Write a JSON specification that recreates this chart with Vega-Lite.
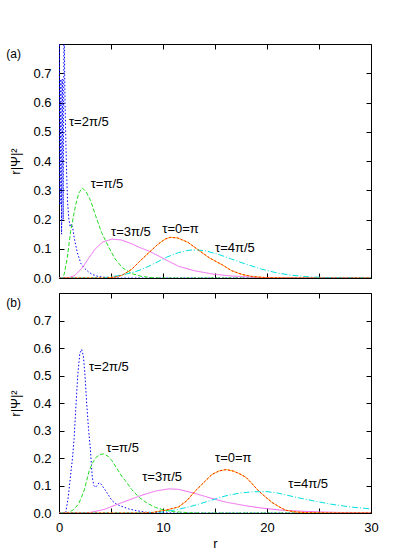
{
  "$schema": "https://vega.github.io/schema/vega-lite/v6.json",
  "padding": {"left": 5, "top": 43, "right": 23, "bottom": 0},
  "spacing": 6,
  "config": {
    "font": "Liberation Sans",
    "view": {"stroke": "black", "strokeWidth": 1},
    "axis": {"domain": false, "grid": false, "tickColor": "black", "tickSize": -5, "labelPadding": 13, "labelFontSize": 13, "labelColor": "black", "labelFont": "Liberation Sans", "titleFont": "Liberation Sans", "titleFontSize": 13, "titleColor": "black", "titleFontWeight": "normal", "labelFlush": false},
    "text": {"font": "Liberation Sans", "fontSize": 13, "color": "black"}
  },
  "datasets": {
    "a": [
      {"s": "b", "r": 0, "v": 0.3}, {"s": "b", "r": 0.02, "v": 0.95}, {"s": "b", "r": 0.1, "v": 0.25}, {"s": "b", "r": 0.18, "v": 0.68}, {"s": "b", "r": 0.25, "v": 0.15}, {"s": "b", "r": 0.32, "v": 0.68}, {"s": "b", "r": 0.4, "v": 0.2}, {"s": "b", "r": 0.48, "v": 0.9}, {"s": "b", "r": 0.58, "v": 0.6}, {"s": "b", "r": 0.7, "v": 0.4}, {"s": "b", "r": 0.82, "v": 0.26}, {"s": "b", "r": 0.95, "v": 0.2}, {"s": "b", "r": 1.08, "v": 0.175}, {"s": "b", "r": 1.2, "v": 0.185}, {"s": "b", "r": 1.32, "v": 0.17}, {"s": "b", "r": 1.5, "v": 0.13}, {"s": "b", "r": 1.76, "v": 0.087}, {"s": "b", "r": 2.1, "v": 0.05}, {"s": "b", "r": 2.4, "v": 0.035}, {"s": "b", "r": 2.8, "v": 0.022}, {"s": "b", "r": 3.2, "v": 0.012}, {"s": "b", "r": 3.8, "v": 0.005}, {"s": "b", "r": 4.5, "v": 0.002}, {"s": "b", "r": 6, "v": 0}, {"s": "b", "r": 30, "v": 0},
      {"s": "g", "r": 0, "v": 0}, {"s": "g", "r": 0.3, "v": 0}, {"s": "g", "r": 0.5, "v": 0.013}, {"s": "g", "r": 0.8, "v": 0.07}, {"s": "g", "r": 1.12, "v": 0.16}, {"s": "g", "r": 1.6, "v": 0.25}, {"s": "g", "r": 1.9, "v": 0.29}, {"s": "g", "r": 2.24, "v": 0.308}, {"s": "g", "r": 2.6, "v": 0.295}, {"s": "g", "r": 3.05, "v": 0.264}, {"s": "g", "r": 3.5, "v": 0.215}, {"s": "g", "r": 4.1, "v": 0.155}, {"s": "g", "r": 4.8, "v": 0.104}, {"s": "g", "r": 5.4, "v": 0.065}, {"s": "g", "r": 6.1, "v": 0.035}, {"s": "g", "r": 7, "v": 0.015}, {"s": "g", "r": 8, "v": 0.005}, {"s": "g", "r": 9, "v": 0.001}, {"s": "g", "r": 10, "v": 0}, {"s": "g", "r": 30, "v": 0},
      {"s": "m", "r": 0, "v": 0}, {"s": "m", "r": 1, "v": 0.002}, {"s": "m", "r": 1.5, "v": 0.008}, {"s": "m", "r": 2.24, "v": 0.035}, {"s": "m", "r": 2.8, "v": 0.065}, {"s": "m", "r": 3.5, "v": 0.1}, {"s": "m", "r": 4.2, "v": 0.123}, {"s": "m", "r": 5.1, "v": 0.133}, {"s": "m", "r": 6, "v": 0.13}, {"s": "m", "r": 7, "v": 0.117}, {"s": "m", "r": 7.7, "v": 0.105}, {"s": "m", "r": 8.65, "v": 0.092}, {"s": "m", "r": 9.6, "v": 0.075}, {"s": "m", "r": 10.5, "v": 0.058}, {"s": "m", "r": 11.5, "v": 0.04}, {"s": "m", "r": 13, "v": 0.025}, {"s": "m", "r": 14.7, "v": 0.014}, {"s": "m", "r": 16.5, "v": 0.007}, {"s": "m", "r": 19, "v": 0.002}, {"s": "m", "r": 22, "v": 0.0005}, {"s": "m", "r": 30, "v": 0},
      {"s": "o", "r": 0, "v": 0}, {"s": "o", "r": 4.5, "v": 0}, {"s": "o", "r": 5.5, "v": 0.004}, {"s": "o", "r": 6.1, "v": 0.01}, {"s": "o", "r": 7, "v": 0.03}, {"s": "o", "r": 7.7, "v": 0.055}, {"s": "o", "r": 8.65, "v": 0.087}, {"s": "o", "r": 9.5, "v": 0.115}, {"s": "o", "r": 10.2, "v": 0.133}, {"s": "o", "r": 10.7, "v": 0.139}, {"s": "o", "r": 11.4, "v": 0.137}, {"s": "o", "r": 12.4, "v": 0.122}, {"s": "o", "r": 13.5, "v": 0.093}, {"s": "o", "r": 14.5, "v": 0.068}, {"s": "o", "r": 15.7, "v": 0.045}, {"s": "o", "r": 16.6, "v": 0.025}, {"s": "o", "r": 17.6, "v": 0.012}, {"s": "o", "r": 18.6, "v": 0.005}, {"s": "o", "r": 20, "v": 0.001}, {"s": "o", "r": 22, "v": 0}, {"s": "o", "r": 30, "v": 0},
      {"s": "c", "r": 0, "v": 0}, {"s": "c", "r": 4, "v": 0}, {"s": "c", "r": 5, "v": 0.004}, {"s": "c", "r": 6, "v": 0.01}, {"s": "c", "r": 7, "v": 0.018}, {"s": "c", "r": 7.7, "v": 0.026}, {"s": "c", "r": 8.5, "v": 0.038}, {"s": "c", "r": 9.3, "v": 0.052}, {"s": "c", "r": 10.4, "v": 0.072}, {"s": "c", "r": 11.5, "v": 0.087}, {"s": "c", "r": 12.5, "v": 0.095}, {"s": "c", "r": 13.3, "v": 0.096}, {"s": "c", "r": 14.2, "v": 0.092}, {"s": "c", "r": 15.4, "v": 0.08}, {"s": "c", "r": 16.5, "v": 0.066}, {"s": "c", "r": 17.5, "v": 0.053}, {"s": "c", "r": 19.5, "v": 0.03}, {"s": "c", "r": 21, "v": 0.017}, {"s": "c", "r": 22.5, "v": 0.009}, {"s": "c", "r": 24, "v": 0.004}, {"s": "c", "r": 26, "v": 0.001}, {"s": "c", "r": 30, "v": 0}
    ],
    "b": [
      {"s": "b", "r": 0, "v": 0}, {"s": "b", "r": 0.64, "v": 0}, {"s": "b", "r": 0.9, "v": 0.06}, {"s": "b", "r": 1.12, "v": 0.14}, {"s": "b", "r": 1.3, "v": 0.2}, {"s": "b", "r": 1.45, "v": 0.27}, {"s": "b", "r": 1.6, "v": 0.37}, {"s": "b", "r": 1.8, "v": 0.5}, {"s": "b", "r": 2.0, "v": 0.58}, {"s": "b", "r": 2.18, "v": 0.595}, {"s": "b", "r": 2.35, "v": 0.57}, {"s": "b", "r": 2.5, "v": 0.5}, {"s": "b", "r": 2.66, "v": 0.4}, {"s": "b", "r": 2.85, "v": 0.3}, {"s": "b", "r": 3.0, "v": 0.24}, {"s": "b", "r": 3.2, "v": 0.13}, {"s": "b", "r": 3.35, "v": 0.1}, {"s": "b", "r": 3.5, "v": 0.093}, {"s": "b", "r": 3.65, "v": 0.1}, {"s": "b", "r": 3.85, "v": 0.11}, {"s": "b", "r": 4.05, "v": 0.105}, {"s": "b", "r": 4.5, "v": 0.08}, {"s": "b", "r": 5.1, "v": 0.045}, {"s": "b", "r": 5.5, "v": 0.033}, {"s": "b", "r": 5.9, "v": 0.026}, {"s": "b", "r": 6.7, "v": 0.015}, {"s": "b", "r": 7.5, "v": 0.008}, {"s": "b", "r": 8.3, "v": 0.003}, {"s": "b", "r": 9.5, "v": 0.001}, {"s": "b", "r": 11, "v": 0}, {"s": "b", "r": 30, "v": 0},
      {"s": "g", "r": 0, "v": 0}, {"s": "g", "r": 0.8, "v": 0}, {"s": "g", "r": 1.4, "v": 0.012}, {"s": "g", "r": 1.9, "v": 0.034}, {"s": "g", "r": 2.4, "v": 0.08}, {"s": "g", "r": 2.9, "v": 0.153}, {"s": "g", "r": 3.2, "v": 0.18}, {"s": "g", "r": 3.5, "v": 0.2}, {"s": "g", "r": 3.9, "v": 0.212}, {"s": "g", "r": 4.25, "v": 0.215}, {"s": "g", "r": 4.7, "v": 0.207}, {"s": "g", "r": 5.1, "v": 0.19}, {"s": "g", "r": 5.6, "v": 0.16}, {"s": "g", "r": 6.1, "v": 0.13}, {"s": "g", "r": 6.4, "v": 0.117}, {"s": "g", "r": 7, "v": 0.085}, {"s": "g", "r": 7.7, "v": 0.057}, {"s": "g", "r": 8.5, "v": 0.035}, {"s": "g", "r": 9.3, "v": 0.02}, {"s": "g", "r": 10.2, "v": 0.01}, {"s": "g", "r": 11, "v": 0.005}, {"s": "g", "r": 12.5, "v": 0.001}, {"s": "g", "r": 14, "v": 0}, {"s": "g", "r": 30, "v": 0},
      {"s": "m", "r": 0, "v": 0}, {"s": "m", "r": 2.5, "v": 0}, {"s": "m", "r": 3, "v": 0.002}, {"s": "m", "r": 4, "v": 0.01}, {"s": "m", "r": 4.5, "v": 0.015}, {"s": "m", "r": 5.5, "v": 0.03}, {"s": "m", "r": 6.7, "v": 0.047}, {"s": "m", "r": 8, "v": 0.065}, {"s": "m", "r": 9.3, "v": 0.08}, {"s": "m", "r": 10.6, "v": 0.088}, {"s": "m", "r": 11.5, "v": 0.086}, {"s": "m", "r": 13, "v": 0.072}, {"s": "m", "r": 14.7, "v": 0.053}, {"s": "m", "r": 16, "v": 0.04}, {"s": "m", "r": 18, "v": 0.026}, {"s": "m", "r": 19.5, "v": 0.018}, {"s": "m", "r": 21.2, "v": 0.011}, {"s": "m", "r": 23, "v": 0.007}, {"s": "m", "r": 25, "v": 0.004}, {"s": "m", "r": 27, "v": 0.002}, {"s": "m", "r": 30, "v": 0.001},
      {"s": "o", "r": 0, "v": 0}, {"s": "o", "r": 8, "v": 0}, {"s": "o", "r": 9, "v": 0.002}, {"s": "o", "r": 10.2, "v": 0.01}, {"s": "o", "r": 11.5, "v": 0.022}, {"s": "o", "r": 12.3, "v": 0.045}, {"s": "o", "r": 13.1, "v": 0.08}, {"s": "o", "r": 13.9, "v": 0.11}, {"s": "o", "r": 14.7, "v": 0.14}, {"s": "o", "r": 15.4, "v": 0.153}, {"s": "o", "r": 16.1, "v": 0.158}, {"s": "o", "r": 16.8, "v": 0.152}, {"s": "o", "r": 17.5, "v": 0.14}, {"s": "o", "r": 18, "v": 0.129}, {"s": "o", "r": 18.6, "v": 0.105}, {"s": "o", "r": 19.2, "v": 0.08}, {"s": "o", "r": 19.9, "v": 0.057}, {"s": "o", "r": 20.5, "v": 0.038}, {"s": "o", "r": 21.2, "v": 0.022}, {"s": "o", "r": 21.8, "v": 0.01}, {"s": "o", "r": 22.7, "v": 0.004}, {"s": "o", "r": 24, "v": 0.001}, {"s": "o", "r": 26, "v": 0}, {"s": "o", "r": 30, "v": 0},
      {"s": "c", "r": 0, "v": 0}, {"s": "c", "r": 8, "v": 0}, {"s": "c", "r": 9, "v": 0.002}, {"s": "c", "r": 10, "v": 0.004}, {"s": "c", "r": 11, "v": 0.01}, {"s": "c", "r": 12.5, "v": 0.022}, {"s": "c", "r": 13.5, "v": 0.033}, {"s": "c", "r": 14.7, "v": 0.047}, {"s": "c", "r": 16, "v": 0.062}, {"s": "c", "r": 17.3, "v": 0.072}, {"s": "c", "r": 18.5, "v": 0.077}, {"s": "c", "r": 19.9, "v": 0.078}, {"s": "c", "r": 21, "v": 0.073}, {"s": "c", "r": 22.8, "v": 0.057}, {"s": "c", "r": 24.5, "v": 0.044}, {"s": "c", "r": 26, "v": 0.033}, {"s": "c", "r": 28, "v": 0.022}, {"s": "c", "r": 30, "v": 0.015}
    ],
    "la": [
      {"t": "τ=2π/5", "r": 0.96, "v": 0.535}, {"t": "τ=π/5", "r": 3.05, "v": 0.321}, {"t": "τ=3π/5", "r": 5.0, "v": 0.157}, {"t": "τ=0=π", "r": 9.93, "v": 0.167}, {"t": "τ=4π/5", "r": 15.0, "v": 0.104}
    ],
    "lb": [
      {"t": "τ=2π/5", "r": 2.88, "v": 0.53}, {"t": "τ=π/5", "r": 4.55, "v": 0.238}, {"t": "τ=3π/5", "r": 8.0, "v": 0.131}, {"t": "τ=0=π", "r": 15.0, "v": 0.2}, {"t": "τ=4π/5", "r": 22.05, "v": 0.107}
    ],
    "pa": [{"t": "(a)", "r": -5.07, "v": 0.766}],
    "pb": [{"t": "(b)", "r": -5.07, "v": 0.763}]
  },
  "vconcat": [
    {
      "width": 312,
      "height": 234,
      "resolve": {"axis": {"x": "independent", "y": "independent"}},
      "layer": [
        {
          "data": {"name": "a"},
          "mark": {"type": "line", "clip": true, "strokeWidth": 1},
          "encoding": {
            "x": {"field": "r", "type": "quantitative", "scale": {"domain": [0, 30], "nice": false, "zero": false}, "axis": {"orient": "bottom", "values": [0, 5, 10, 15, 20, 25, 30], "labels": false, "title": null}},
            "y": {"field": "v", "type": "quantitative", "scale": {"domain": [0, 0.8], "nice": false}, "axis": {"orient": "left", "values": [0, 0.1, 0.2, 0.3, 0.4, 0.5, 0.6, 0.7], "format": ".1f", "title": "r|Ψ|²", "titlePadding": 10}},
            "color": {"field": "s", "type": "nominal", "legend": null, "scale": {"domain": ["b", "g", "m", "o", "c"], "range": ["#0000ff", "#22dd22", "#ee66ee", "#ffaa00", "#00e0e0"]}},
            "strokeDash": {"field": "s", "type": "nominal", "legend": null, "scale": {"domain": ["b", "g", "m", "o", "c"], "range": [[1.5, 2], [4, 2], [1, 0], [1, 0], [6, 2, 1, 2]]}}
          }
        },
        {
          "data": {"name": "a"},
          "transform": [{"filter": "datum.s == 'o'"}],
          "mark": {"type": "line", "clip": true, "strokeWidth": 1, "stroke": "#ff2000", "strokeDash": [2, 2]},
          "encoding": {
            "x": {"field": "r", "type": "quantitative", "axis": null},
            "y": {"field": "v", "type": "quantitative", "axis": null}
          }
        },
        {
          "data": {"name": "la"},
          "mark": {"type": "text", "align": "left", "baseline": "middle"},
          "encoding": {
            "x": {"field": "r", "type": "quantitative", "axis": {"orient": "top", "values": [0, 5, 10, 15, 20, 25, 30], "labels": false, "title": null}},
            "y": {"field": "v", "type": "quantitative", "axis": {"orient": "right", "values": [0, 0.1, 0.2, 0.3, 0.4, 0.5, 0.6, 0.7], "labels": false, "title": null}},
            "text": {"field": "t"}
          }
        },
        {
          "data": {"name": "pa"},
          "mark": {"type": "text", "align": "left", "baseline": "middle", "fontSize": 12},
          "encoding": {
            "x": {"field": "r", "type": "quantitative", "axis": null},
            "y": {"field": "v", "type": "quantitative", "axis": null},
            "text": {"field": "t"}
          }
        }
      ]
    },
    {
      "width": 312,
      "height": 220,
      "resolve": {"axis": {"x": "independent", "y": "independent"}},
      "layer": [
        {
          "data": {"name": "b"},
          "mark": {"type": "line", "clip": true, "strokeWidth": 1},
          "encoding": {
            "x": {"field": "r", "type": "quantitative", "scale": {"domain": [0, 30], "nice": false, "zero": false}, "axis": {"orient": "bottom", "values": [0, 5, 10, 15, 20, 25, 30], "labelExpr": "datum.value % 10 == 0 ? datum.label : ''", "title": "r", "titlePadding": 3}},
            "y": {"field": "v", "type": "quantitative", "scale": {"domain": [0, 0.8], "nice": false}, "axis": {"orient": "left", "values": [0, 0.1, 0.2, 0.3, 0.4, 0.5, 0.6, 0.7], "format": ".1f", "title": "r|Ψ|²", "titlePadding": 10}},
            "color": {"field": "s", "type": "nominal", "legend": null, "scale": {"domain": ["b", "g", "m", "o", "c"], "range": ["#0000ff", "#22dd22", "#ee66ee", "#ffaa00", "#00e0e0"]}},
            "strokeDash": {"field": "s", "type": "nominal", "legend": null, "scale": {"domain": ["b", "g", "m", "o", "c"], "range": [[1.5, 2], [4, 2], [1, 0], [1, 0], [6, 2, 1, 2]]}}
          }
        },
        {
          "data": {"name": "b"},
          "transform": [{"filter": "datum.s == 'o'"}],
          "mark": {"type": "line", "clip": true, "strokeWidth": 1, "stroke": "#ff2000", "strokeDash": [2, 2]},
          "encoding": {
            "x": {"field": "r", "type": "quantitative", "axis": null},
            "y": {"field": "v", "type": "quantitative", "axis": null}
          }
        },
        {
          "data": {"name": "lb"},
          "mark": {"type": "text", "align": "left", "baseline": "middle"},
          "encoding": {
            "x": {"field": "r", "type": "quantitative", "axis": {"orient": "top", "values": [0, 5, 10, 15, 20, 25, 30], "labels": false, "title": null}},
            "y": {"field": "v", "type": "quantitative", "axis": {"orient": "right", "values": [0, 0.1, 0.2, 0.3, 0.4, 0.5, 0.6, 0.7], "labels": false, "title": null}},
            "text": {"field": "t"}
          }
        },
        {
          "data": {"name": "pb"},
          "mark": {"type": "text", "align": "left", "baseline": "middle", "fontSize": 12},
          "encoding": {
            "x": {"field": "r", "type": "quantitative", "axis": null},
            "y": {"field": "v", "type": "quantitative", "axis": null},
            "text": {"field": "t"}
          }
        }
      ]
    }
  ]
}
